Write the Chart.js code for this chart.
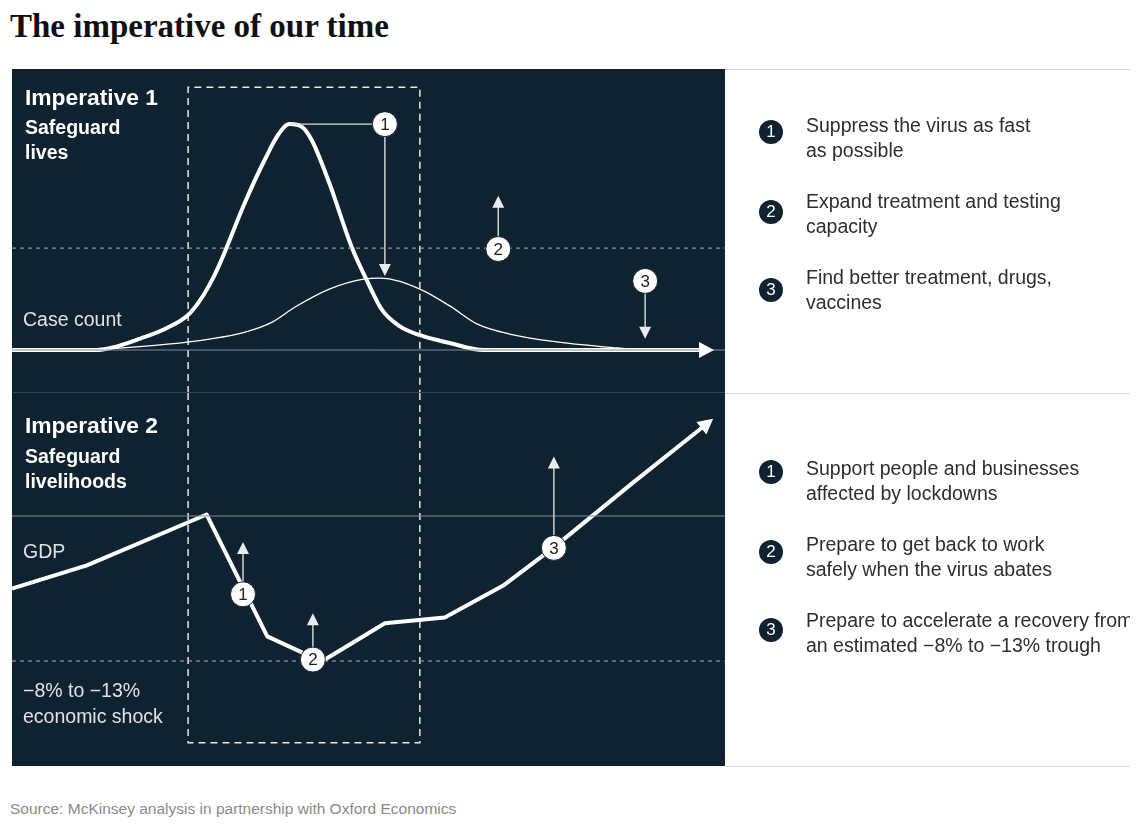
<!DOCTYPE html>
<html>
<head>
<meta charset="utf-8">
<script src="https://cdn.jsdelivr.net/npm/chart.js@4.4.1/dist/chart.umd.min.js"></script>
<style>
body { margin: 0; width: 1146px; height: 836px; background: #fff; position: relative; overflow: hidden; font-family: "Liberation Sans", Arial, sans-serif; }
#title { position: absolute; left: 10px; top: 8px; font: bold 33px/36px "Liberation Serif", serif; color: #111; }
#panel { position: absolute; left: 12px; top: 69px; width: 713px; height: 697px; background: #0e2230; }
#panel canvas { position: absolute; left: 0; }
#topChart { top: 0; }
#bottomChart { top: 324px; }
.sep { position: absolute; left: 0; top: 323px; width: 713px; height: 1px; background: #34454f; }
.lbl { position: absolute; color: #fff; white-space: nowrap; }
.head { font-weight: bold; font-size: 22.8px; line-height: 24px; }
.sub { font-weight: bold; font-size: 19.5px; line-height: 25px; }
.axis { font-size: 19.5px; line-height: 26px; color: #dde3e6; }
.rule { position: absolute; left: 725px; width: 405px; height: 1px; background: #d3d3d3; }
#notes { position: absolute; left: 725px; top: 70px; width: 405px; height: 696px; overflow: hidden; }
.item { position: absolute; left: 81px; font-size: 19.5px; line-height: 25px; color: #2e2e2e; white-space: nowrap; }
.dot { position: absolute; left: 34px; width: 24px; height: 24px; border-radius: 50%; background: #0e2230; color: #fff; font-size: 17px; line-height: 24px; text-align: center; }
#source { position: absolute; left: 10px; top: 800px; font-size: 15.5px; color: #8a8a8a; }
</style>
</head>
<body>
<div id="title">The imperative of our time</div>

<div id="panel">
  <canvas id="topChart" width="713" height="324"></canvas>
  <canvas id="bottomChart" width="713" height="373"></canvas>
  <div class="sep"></div>
  <div class="lbl head" style="left:13px;top:16px">Imperative 1</div>
  <div class="lbl sub" style="left:13px;top:46px">Safeguard<br>lives</div>
  <div class="lbl axis" style="left:11px;top:237px">Case count</div>
  <div class="lbl head" style="left:13px;top:344px">Imperative 2</div>
  <div class="lbl sub" style="left:13px;top:375px">Safeguard<br>livelihoods</div>
  <div class="lbl axis" style="left:11px;top:469px">GDP</div>
  <div class="lbl axis" style="left:11px;top:608px">&minus;8% to &minus;13%<br>economic shock</div>
</div>

<div class="rule" style="top:69px"></div>
<div class="rule" style="top:393px"></div>
<div class="rule" style="top:766px"></div>

<div id="notes">
  <div class="dot" style="top:50px">1</div>
  <div class="item" style="top:43px">Suppress the virus as fast<br>as possible</div>
  <div class="dot" style="top:130px">2</div>
  <div class="item" style="top:119px">Expand treatment and testing<br>capacity</div>
  <div class="dot" style="top:208px">3</div>
  <div class="item" style="top:195px">Find better treatment, drugs,<br>vaccines</div>

  <div class="dot" style="top:390px">1</div>
  <div class="item" style="top:386px">Support people and businesses<br>affected by lockdowns</div>
  <div class="dot" style="top:470px">2</div>
  <div class="item" style="top:462px">Prepare to get back to work<br>safely when the virus abates</div>
  <div class="dot" style="top:548px">3</div>
  <div class="item" style="top:538px">Prepare to accelerate a recovery from<br>an estimated &minus;8% to &minus;13% trough</div>
</div>

<div id="source">Source: McKinsey analysis in partnership with Oxford Economics</div>

<script>
// time axis (abstract weeks, 0..100) and case counts (peak = 100)
const caseWeeks = [0, 11.6, 18.65, 22.0, 24.7, 26.2, 27.6, 29.0, 32.7, 35.5, 37.4, 38.9, 40.7, 42.1, 44.5, 47.7, 49.8, 51.9, 54.3, 57.1, 61.4, 66.1, 96.5];
const unmitigatedCases = [0, 0, 5.8, 10.2, 15.6, 21.3, 28.4, 37.3, 65.8, 84.9, 96, 100.4, 99.1, 92.9, 74.2, 45.3, 30.7, 17.8, 10.7, 6.7, 3.1, 0, 0];

const flatWeeks = [11.6, 24.8, 32.7, 36.5, 39.7, 44.5, 49.5, 51.6, 57.2, 61.4, 65.2, 69.8, 76.4, 84.9, 88.1];
const flattenedCases = [0, 3.6, 8, 12.4, 19.1, 27.1, 31.6, 32, 27.1, 19.6, 11.6, 7.1, 3.6, 0.9, 0];

// GDP index (pre-crisis = 100)
const gdpWeeks = [0, 10.5, 27.3, 35.8, 42.4, 43.9, 52.3, 60.7, 68.9, 75.9, 87.1, 96.8];
const gdpIndex = [95.0, 96.6, 100.1, 91.7, 90.2, 90.1, 92.6, 93.0, 95.2, 97.8, 102.3, 106.1];

const caseBaseline = 0;
const treatmentCapacity = 45.3;
const gdpBaseline = 100;
const gdpTrough = 90;
const lockdownWindow = [24.7, 57.2];

// callouts: number, week, value, arrow tip week, arrow tip value, leader start week
const topCallouts = [
    [1, 52.3, 100.4, 52.3, 32.9, 38.9],
    [2, 68.2, 44.9, 68.2, 68.6, null],
    [3, 88.8, 30.7, 88.8, 5.0, null]
];
const bottomCallouts = [
    [1, 32.4, 94.6, 32.4, 98.2, null],
    [2, 42.2, 90.1, 42.2, 93.3, null],
    [3, 76.0, 97.8, 76.0, 104.1, null]
];

function pairs(xs, ys) {
    return xs.map((x, i) => ({ x: x, y: ys[i] }));
}

function arrowHead(ctx, x, y, dx, dy, len, half) {
    const d = Math.hypot(dx, dy);
    const ux = dx / d, uy = dy / d;
    ctx.beginPath();
    ctx.moveTo(x, y);
    ctx.lineTo(x - ux * len - uy * half, y - uy * len + ux * half);
    ctx.lineTo(x - ux * len + uy * half, y - uy * len - ux * half);
    ctx.closePath();
    ctx.fill();
}

const overlay = {
    id: 'overlay',
    beforeDatasetsDraw(chart, args, opts) {
        const ctx = chart.ctx, xs = chart.scales.x, ys = chart.scales.y;
        const x0 = xs.getPixelForValue(lockdownWindow[0]);
        const x1 = xs.getPixelForValue(lockdownWindow[1]);
        const edge = ys.getPixelForValue(opts.frameEdge);
        const far = opts.frameTop ? chart.height : 0;
        ctx.save();
        ctx.strokeStyle = '#e4e8ea';
        ctx.lineWidth = 1.5;
        ctx.setLineDash([7, 5]);
        ctx.beginPath();
        ctx.moveTo(x0, far);
        ctx.lineTo(x0, edge);
        ctx.lineTo(x1, edge);
        ctx.lineTo(x1, far);
        ctx.stroke();
        ctx.restore();
    },
    afterDatasetsDraw(chart, args, opts) {
        const ctx = chart.ctx, xs = chart.scales.x, ys = chart.scales.y;
        ctx.save();
        // arrowheads on the main series
        chart.data.datasets.forEach((ds, i) => {
            if (!ds.arrow) return;
            const pts = chart.getDatasetMeta(i).data;
            const a = pts[pts.length - 2], b = pts[pts.length - 1];
            const dx = b.x - a.x, dy = b.y - a.y, d = Math.hypot(dx, dy);
            ctx.fillStyle = '#fff';
            arrowHead(ctx, b.x + dx / d * 14, b.y + dy / d * 14, dx, dy, 15, 8);
        });
        // numbered callouts
        opts.callouts.forEach(c => {
            const cx = xs.getPixelForValue(c[1]), cy = ys.getPixelForValue(c[2]);
            const tx = xs.getPixelForValue(c[3]), ty = ys.getPixelForValue(c[4]);
            ctx.strokeStyle = '#d9dee1';
            ctx.fillStyle = '#e8ecee';
            ctx.lineWidth = 1.4;
            if (c[5] !== null) {
                ctx.beginPath();
                ctx.moveTo(xs.getPixelForValue(c[5]), cy);
                ctx.lineTo(cx, cy);
                ctx.stroke();
            }
            ctx.beginPath();
            ctx.moveTo(cx, cy);
            ctx.lineTo(tx, ty + (ty > cy ? -10 : 10));
            ctx.stroke();
            arrowHead(ctx, tx, ty, tx - cx, ty - cy, 12, 6);
            ctx.beginPath();
            ctx.arc(cx, cy, 12.5, 0, Math.PI * 2);
            ctx.fillStyle = '#fff';
            ctx.fill();
            ctx.lineWidth = 1;
            ctx.strokeStyle = '#0e2230';
            ctx.stroke();
            ctx.fillStyle = '#222';
            ctx.font = '17px "Liberation Sans", Arial, sans-serif';
            ctx.textAlign = 'center';
            ctx.textBaseline = 'middle';
            ctx.fillText(String(c[0]), cx, cy + 1);
        });
        ctx.restore();
    }
};

function baseOptions(yMin, yMax, frameEdge, frameTop, callouts) {
    return {
        responsive: false,
        animation: false,
        layout: { padding: 0 },
        scales: {
            x: { type: 'linear', min: 0, max: 100, display: false },
            y: { min: yMin, max: yMax, display: false }
        },
        plugins: {
            legend: { display: false },
            tooltip: { enabled: false },
            overlay: { frameEdge: frameEdge, frameTop: frameTop, callouts: callouts }
        },
        elements: { point: { radius: 0 } }
    };
}

function refLine(value, color, dash) {
    return {
        data: [{ x: 0, y: value }, { x: 100, y: value }],
        borderColor: color, borderWidth: 1, borderDash: dash,
        pointRadius: 0, tension: 0
    };
}

new Chart(document.getElementById('topChart'), {
    type: 'line',
    data: {
        datasets: [
            refLine(caseBaseline, '#7f8d96', []),
            refLine(treatmentCapacity, '#a9b3b9', [4, 4]),
            {
                data: pairs(flatWeeks, flattenedCases),
                borderColor: '#fff', borderWidth: 1.3,
                cubicInterpolationMode: 'monotone'
            },
            {
                data: pairs(caseWeeks, unmitigatedCases),
                borderColor: '#fff', borderWidth: 4,
                cubicInterpolationMode: 'monotone',
                arrow: true
            }
        ]
    },
    options: baseOptions(-19.1, 124.9, 116.8, true, topCallouts),
    plugins: [overlay]
});

new Chart(document.getElementById('bottomChart'), {
    type: 'line',
    data: {
        datasets: [
            refLine(gdpBaseline, '#7f8d96', []),
            refLine(gdpTrough, '#a9b3b9', [4, 4]),
            {
                data: pairs(gdpWeeks, gdpIndex),
                borderColor: '#fff', borderWidth: 4,
                tension: 0,
                borderJoinStyle: 'round',
                arrow: true
            }
        ]
    },
    options: baseOptions(82.76, 108.48, 84.37, false, bottomCallouts),
    plugins: [overlay]
});
</script>
</body>
</html>
